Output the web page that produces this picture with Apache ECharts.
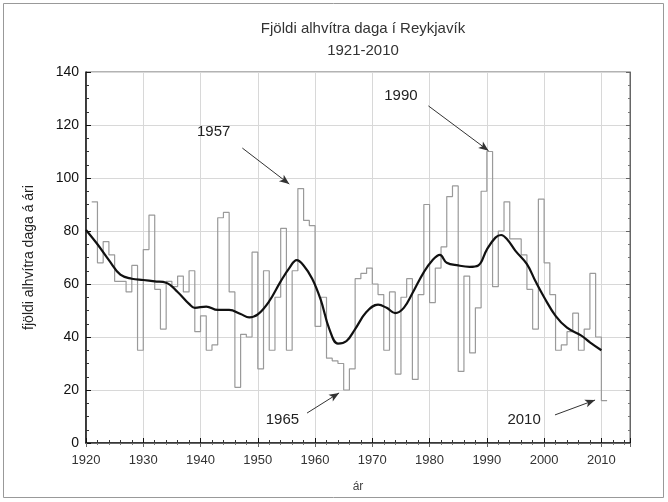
<!DOCTYPE html>
<html>
<head>
<meta charset="utf-8">
<style>
  html, body { margin: 0; padding: 0; background: #fff; }
  #chart { width: 668px; height: 502px; }
</style>
<script src="https://cdn.jsdelivr.net/npm/echarts@6/dist/echarts.min.js"></script>
</head>
<body>
<div id="chart"></div>
<script>
// annual count of snow-covered days, each value covers [year, year+1]
const years = []
for (let y = 1921; y <= 2010; y++) years.push(y)
const days = [
  91, 68, 76, 71, 61, 61, 57, 67, 35, 73,
  86, 58, 43, 61, 59, 63, 57, 65, 42, 48,
  35, 37, 85, 87, 57, 21, 41, 40, 72, 28,
  65, 35, 55, 81, 35, 65, 96, 84, 82, 44,
  55, 32, 31, 30, 20, 28, 62, 64, 66, 60,
  56, 35, 57, 26, 55, 62, 24, 56, 90, 53,
  66, 74, 93, 97, 27, 63, 34, 51, 95, 110,
  59, 80, 91, 77, 77, 71, 58, 43, 92, 68,
  56, 35, 37, 42, 49, 35, 43, 64, 40, 16
]

// smoothed curve
const smoothYears = [1920, 1922, 1924, 1926, 1928, 1930, 1932, 1934, 1936, 1938,
  1939, 1941, 1943, 1945, 1947, 1948.5, 1950, 1952, 1954, 1955.5,
  1956.8, 1958, 1959.5, 1961, 1962.5, 1964, 1965.5, 1967, 1969, 1971,
  1972.5, 1974, 1975.5, 1977, 1979, 1980.5, 1981.8, 1983, 1985, 1987,
  1988.5, 1990, 1991.5, 1992.5, 1993.5, 1995, 1997, 1998.5, 2000, 2002,
  2004, 2006.5, 2008, 2010]
const smoothDays = [80.4, 75, 69, 63.5, 62, 61.5, 61, 60.5, 57, 52.5,
  51, 51.5, 50.2, 50.2, 48.7, 47.4, 48.5, 53.5, 61, 66,
  69, 67, 62, 54, 43, 37.5, 38.5, 43, 49.5, 52.2,
  51, 49, 51, 56.5, 64.5, 69, 71, 68, 67, 66.5,
  67, 73, 77.5, 78.5, 77, 72.5, 67.5, 61, 55, 48,
  43.5, 40.5, 38, 35]

// annotations: label position, arrow start, arrow tip (data coords)
const noteLabels = ['1957', '1990', '1965', '2010']
const noteText = [[1942.3, 117.4], [1975, 131], [1954.3, 8.7], [1996.5, 8.7]]
const noteFrom = [[1947.3, 111.3], [1979.8, 127.2], [1958.6, 11.3], [2001.9, 10.6]]
const noteTo = [[1955.5, 97.7], [1990.3, 110.3], [1964.2, 18.9], [2008.9, 16.2]]

const stepData = years.map((y, i) => [y, days[i]])
stepData.push([years[years.length - 1] + 1, days[days.length - 1]])
const smoothData = smoothYears.map((y, i) => [y, smoothDays[i]])

const chart = echarts.init(document.getElementById('chart'))

const font = 'Liberation Sans, Arial, sans-serif'

const option = {
  backgroundColor: '#fff',
  animation: false,
  title: {
    text: 'Fjöldi alhvítra daga í Reykjavík\n1921-2010',
    left: 358,
    textAlign: 'center',
    top: 13,
    textStyle: {
      fontFamily: font,
      fontSize: 15,
      fontWeight: 'normal',
      color: '#333',
      lineHeight: 22
    }
  },
  graphic: [{
    type: 'rect',
    shape: { x: 3.5, y: 3.5, width: 660, height: 494 },
    style: { fill: 'none', stroke: '#999', lineWidth: 1 },
    silent: true
  }],
  grid: {
    left: 86,
    right: 38,
    top: 72,
    bottom: 59,
    show: true,
    borderColor: '#666',
    borderWidth: 1
  },
  xAxis: [{
    type: 'value',
    min: 1920,
    max: 2015,
    interval: 10,
    name: 'ár',
    nameLocation: 'middle',
    nameGap: 38,
    nameTextStyle: { fontFamily: font, fontSize: 12, color: '#444' },
    axisLine: { show: true, lineStyle: { color: '#111', width: 1.5 } },
    axisTick: { show: true, inside: true, length: 5, lineStyle: { color: '#111' } },
    minorTick: { show: true, splitNumber: 5, length: 3, lineStyle: { color: '#333' } },
    axisLabel: {
      fontFamily: font, fontSize: 13, color: '#333', margin: 11,
      showMaxLabel: false,
      formatter: (v) => String(v)
    },
    splitLine: { show: true, lineStyle: { color: '#d8d8d8', width: 1 } }
  }, {
    type: 'value',
    position: 'top',
    min: 1920,
    max: 2015,
    interval: 10,
    axisLine: { show: true, lineStyle: { color: '#666' } },
    axisTick: { show: true, inside: true, length: 4, lineStyle: { color: '#666' } },
    minorTick: { show: true, splitNumber: 5, length: 2, lineStyle: { color: '#777' } },
    axisLabel: { show: false },
    splitLine: { show: false }
  }],
  yAxis: [{
    type: 'value',
    min: 0,
    max: 140,
    interval: 20,
    name: 'fjöldi alhvítra daga á ári',
    nameLocation: 'middle',
    nameGap: 50,
    nameTextStyle: { fontFamily: font, fontSize: 14, color: '#222' },
    axisLine: { show: true, lineStyle: { color: '#111', width: 1.5 } },
    axisTick: { show: true, inside: true, length: 5, lineStyle: { color: '#111' } },
    minorTick: { show: true, splitNumber: 4, length: 3, lineStyle: { color: '#333' } },
    axisLabel: { fontFamily: font, fontSize: 14, color: '#111', margin: 7 },
    splitLine: { show: true, lineStyle: { color: '#d8d8d8', width: 1 } }
  }, {
    type: 'value',
    position: 'right',
    min: 0,
    max: 140,
    interval: 20,
    axisLine: { show: true, lineStyle: { color: '#666' } },
    axisTick: { show: true, inside: true, length: 4, lineStyle: { color: '#666' } },
    minorTick: { show: true, splitNumber: 4, length: 2, lineStyle: { color: '#777' } },
    axisLabel: { show: false },
    splitLine: { show: false }
  }],
  series: [{
    name: 'ár',
    type: 'line',
    step: 'end',
    showSymbol: false,
    data: stepData,
    lineStyle: { color: '#9a9a9a', width: 1.2 },
    z: 2,
    markLine: {
      silent: true,
      symbol: ['none', 'arrow'],
      symbolSize: [6, 10],
      lineStyle: { color: '#333', width: 1, type: 'solid' },
      label: { show: false },
      data: noteFrom.map((p, i) => [{ coord: p }, { coord: noteTo[i] }])
    },
    markPoint: {
      silent: true,
      symbol: 'circle',
      symbolSize: 1,
      itemStyle: { color: 'rgba(0,0,0,0)' },
      label: {
        show: true,
        position: 'inside',
        fontFamily: font,
        fontSize: 15,
        color: '#222',
        formatter: (p) => p.name
      },
      data: noteLabels.map((t, i) => ({ name: t, coord: noteText[i] }))
    }
  }, {
    name: 'smoothed',
    type: 'line',
    smooth: 0.4,
    showSymbol: false,
    data: smoothData,
    lineStyle: { color: '#111', width: 2.2 },
    z: 3
  }]
}

chart.setOption(option)
</script>
</body>
</html>
